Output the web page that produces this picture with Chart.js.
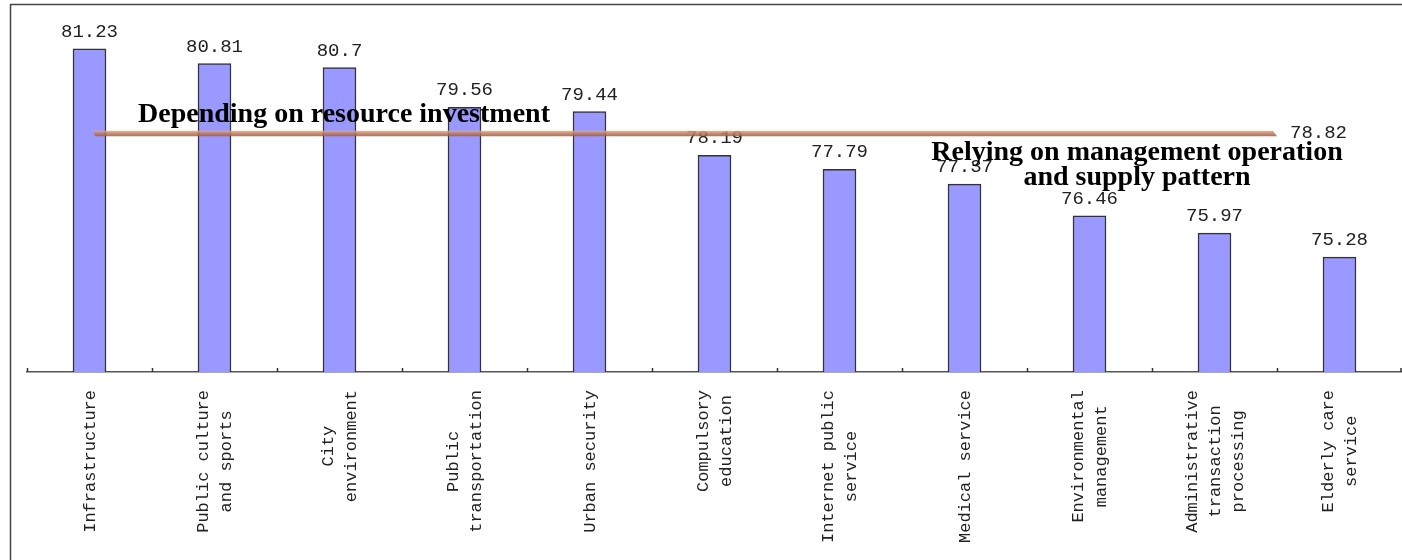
<!DOCTYPE html>
<html>
<head>
<meta charset="utf-8">
<script src="https://cdn.jsdelivr.net/npm/chart.js@4.4.0/dist/chart.umd.min.js"></script>
<style>
  html, body { margin: 0; padding: 0; background: #fff; }
  #wrap { position: relative; width: 1402px; height: 560px; }
</style>
</head>
<body>
<div id="wrap"><canvas id="grafico"></canvas></div>
<script>
// categories (one entry per bar, split into the lines shown under the axis)
const categories = [
  ['Infrastructure'],
  ['Public culture', 'and sports'],
  ['City', 'environment'],
  ['Public', 'transportation'],
  ['Urban security'],
  ['Compulsory', 'education'],
  ['Internet public', 'service'],
  ['Medical service'],
  ['Environmental', 'management'],
  ['Administrative', 'transaction', 'processing'],
  ['Elderly care', 'service']
];
const scores = [81.23, 80.81, 80.7, 79.56, 79.44, 78.19, 77.79, 77.37, 76.46, 75.97, 75.28];
const referenceValue = 78.82;
const noteLeft = ['Depending on resource investment'];
const noteRight = ['Relying on management operation', 'and supply pattern'];

const monoFont = '"Liberation Mono", "DejaVu Sans Mono", monospace';
const serifBold = 'bold 28px "Liberation Serif", "Times New Roman", serif';

// frame + inward ticks + category labels + value labels + reference line + notes
const extras = {
  id: 'extras',
  beforeDraw(chart) {
    const ctx = chart.ctx;
    ctx.save();
    ctx.strokeStyle = '#444';
    ctx.lineWidth = 1.5;
    ctx.beginPath();
    ctx.moveTo(10.5, chart.height);
    ctx.lineTo(10.5, 4.5);
    ctx.lineTo(chart.width, 4.5);
    ctx.stroke();
    ctx.restore();
  },
  afterDraw(chart) {
    const ctx = chart.ctx;
    const x = chart.scales.x;
    const y = chart.scales.y;
    const area = chart.chartArea;
    ctx.save();

    // tick marks between categories, pointing up into the plot
    ctx.strokeStyle = '#333';
    ctx.lineWidth = 1.5;
    for (let k = 0; k <= categories.length; k++) {
      const px = Math.min(Math.round(x.getPixelForValue(k - 0.5)) + 0.5, chart.width - 1);
      ctx.beginPath();
      ctx.moveTo(px, area.bottom - 4);
      ctx.lineTo(px, area.bottom);
      ctx.stroke();
    }

    // category labels, rotated, lines centred on each other
    ctx.fillStyle = '#222';
    ctx.font = '17px ' + monoFont;
    ctx.textAlign = 'center';
    ctx.textBaseline = 'alphabetic';
    const lh = 23;
    categories.forEach((lines, i) => {
      const cx = x.getPixelForValue(i);
      const longest = Math.max(...lines.map(l => ctx.measureText(l).width));
      const midY = area.bottom + 18 + longest / 2;
      lines.forEach((l, j) => {
        const lx = cx + (j - (lines.length - 1) / 2) * lh + 5;
        ctx.save();
        ctx.translate(lx, midY);
        ctx.rotate(-Math.PI / 2);
        ctx.fillText(l, 0, 0);
        ctx.restore();
      });
    });

    // values above bars
    ctx.font = '19px ' + monoFont;
    ctx.textAlign = 'center';
    ctx.textBaseline = 'alphabetic';
    chart.getDatasetMeta(0).data.forEach((bar, i) => {
      ctx.fillText(String(scores[i]), bar.x, bar.y - 12);
    });

    // reference line
    const ly = y.getPixelForValue(referenceValue);
    const x0 = x.getPixelForValue(0) + 3;
    const x1 = x.getPixelForValue(9.5);
    const grad = ctx.createLinearGradient(0, ly - 3, 0, ly + 3);
    grad.addColorStop(0, '#e2b9a0');
    grad.addColorStop(0.45, '#c28062');
    grad.addColorStop(1, '#985842');
    ctx.globalAlpha = 0.85;
    ctx.fillStyle = grad;
    ctx.beginPath();
    ctx.moveTo(x0, ly - 2.5);
    ctx.lineTo(x1 - 4, ly - 2.5);
    ctx.lineTo(x1, ly + 3);
    ctx.lineTo(x0 + 3, ly + 3);
    ctx.closePath();
    ctx.fill();
    ctx.globalAlpha = 1;

    ctx.fillStyle = '#222';
    ctx.font = '19px ' + monoFont;
    ctx.textAlign = 'left';
    ctx.textBaseline = 'middle';
    ctx.fillText(String(referenceValue), x1 + 13, ly);

    // notes
    ctx.fillStyle = '#000';
    ctx.font = serifBold;
    ctx.textBaseline = 'alphabetic';
    ctx.textAlign = 'left';
    ctx.fillText(noteLeft[0], 138, ly - 11);
    ctx.textAlign = 'center';
    noteRight.forEach((t, i) => ctx.fillText(t, 1137, ly + 27 + i * 25));

    ctx.restore();
  }
};

new Chart(document.getElementById('grafico'), {
  type: 'bar',
  data: {
    labels: categories,
    datasets: [{
      data: scores,
      backgroundColor: '#9999ff',
      borderColor: '#333',
      borderWidth: 1.5,
      borderSkipped: 'bottom',
      barThickness: 33
    }]
  },
  options: {
    responsive: true,
    maintainAspectRatio: false,
    animation: false,
    layout: { padding: { left: 27, top: 22, right: 0, bottom: 0 } },
    plugins: { legend: { display: false }, tooltip: { enabled: false } },
    scales: {
      x: {
        grid: { display: false, drawTicks: false },
        border: { display: true, color: '#555', width: 1.5 },
        ticks: { display: false },
        afterFit: axis => { axis.height = 188; }
      },
      y: { display: false, min: 72, max: 82 }
    }
  },
  plugins: [extras]
});
</script>
</body>
</html>
